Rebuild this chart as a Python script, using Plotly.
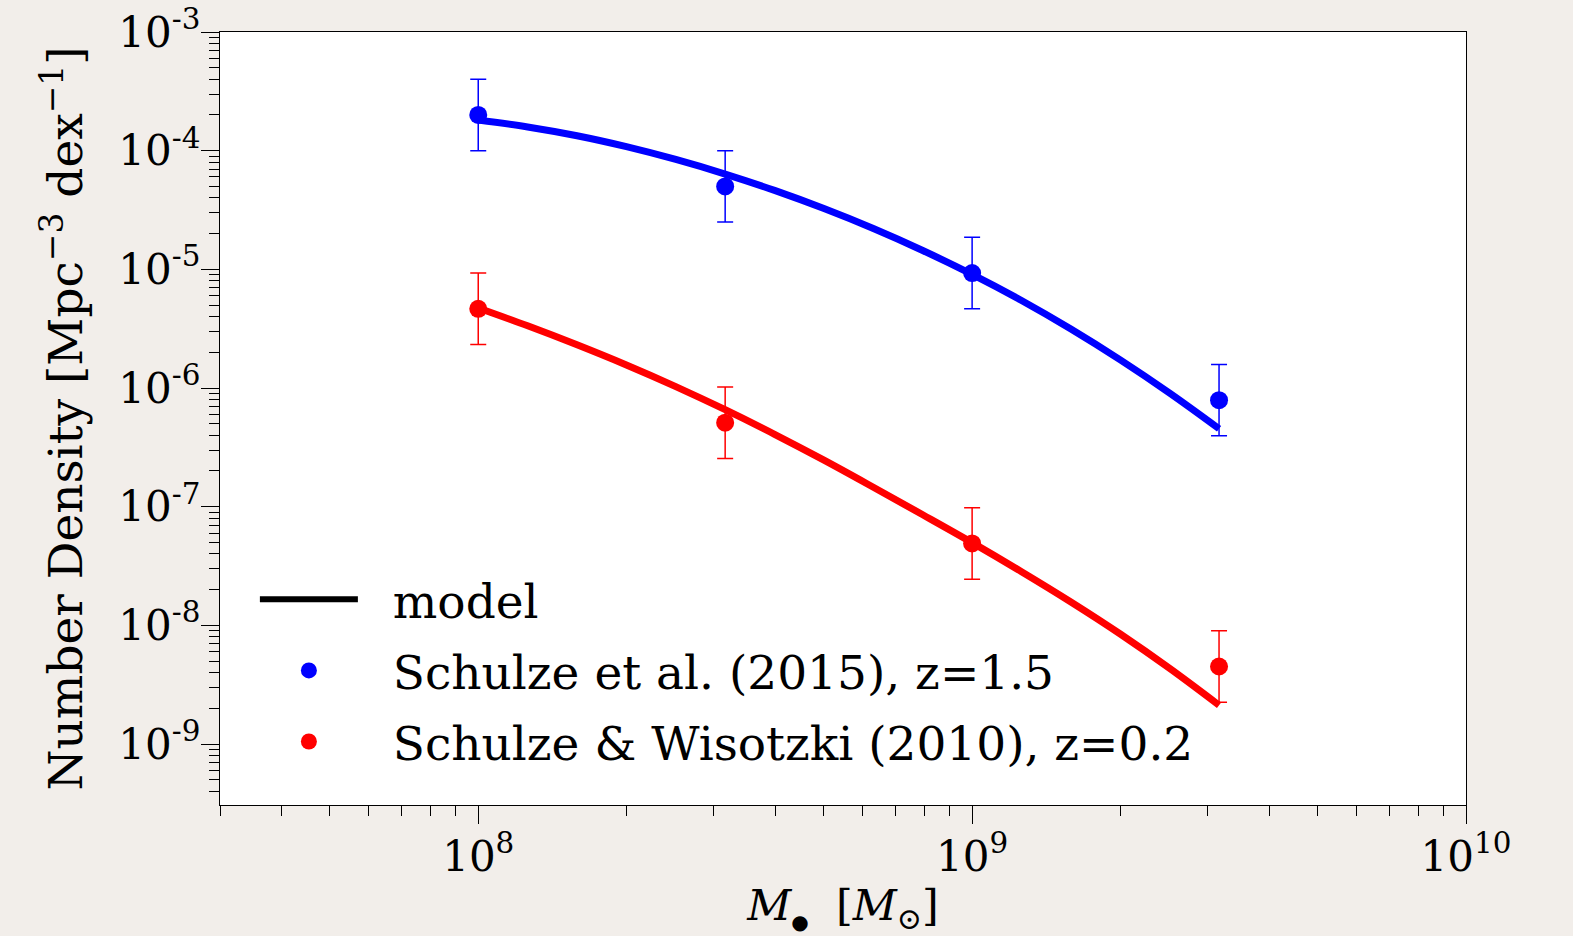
import numpy as np
import plotly.graph_objects as go

# ---- data ----
model_logm = [8.0, 8.1, 8.2, 8.3, 8.4, 8.5, 8.6, 8.7, 8.8, 8.9, 9.0, 9.1, 9.2, 9.3, 9.4, 9.5]
model_blue_logphi = [-3.742, -3.800, -3.874, -3.966, -4.074, -4.197, -4.335, -4.488, -4.656, -4.841,
                     -5.043, -5.263, -5.503, -5.763, -6.043, -6.343]
model_red_logphi = [-5.326, -5.476, -5.636, -5.806, -5.988, -6.183, -6.390, -6.608, -6.836, -7.068,
                    -7.303, -7.548, -7.803, -8.073, -8.363, -8.673]

obs_mass = [1e8, 3.162e8, 1e9, 3.162e9]
schulze15_phi = [2.0e-4, 5.0e-5, 9.3e-6, 7.9e-7]
schulze10_phi = [4.65e-6, 5.1e-7, 4.9e-8, 4.5e-9]

ytick_vals = [1e-9, 1e-8, 1e-7, 1e-6, 1e-5, 1e-4, 1e-3]
ytick_text = ["10<sup>-9</sup>", "10<sup>-8</sup>", "10<sup>-7</sup>", "10<sup>-6</sup>",
              "10<sup>-5</sup>", "10<sup>-4</sup>", "10<sup>-3</sup>"]
xtick_vals = [1e8, 1e9, 1e10]
xtick_text = ["10<sup>8</sup>", "10<sup>9</sup>", "10<sup>10</sup>"]

model_m = [10 ** v for v in model_logm]
model_blue = [10 ** v for v in model_blue_logphi]
model_red = [10 ** v for v in model_red_logphi]

def minor_vals(lo, hi):
    out = []
    for e in range(lo, hi):
        for d in range(2, 10):
            out.append(d * 10.0 ** e)
    return out

FONT = "DejaVu Serif"
BLUE = "#0000ff"
RED = "#ff0000"
SP = "&nbsp;&nbsp;"

fig = go.Figure()

# model curves
fig.add_trace(go.Scatter(x=model_m, y=model_blue, mode="lines",
                         line=dict(color=BLUE, width=7, shape="spline", smoothing=1.0),
                         showlegend=False))
fig.add_trace(go.Scatter(x=model_m, y=model_red, mode="lines",
                         line=dict(color=RED, width=7, shape="spline", smoothing=1.0),
                         showlegend=False))

# legend entry for model (black line)
fig.add_trace(go.Scatter(x=[None], y=[None], mode="lines", name=SP + "model",
                         line=dict(color="black", width=6), legendgroup="a"))

# observations
fig.add_trace(go.Scatter(
    x=obs_mass, y=schulze15_phi, mode="markers",
    name=SP + "Schulze et al. (2015), z=1.5", legendgroup="b",
    marker=dict(color=BLUE, size=18),
    error_y=dict(type="data", symmetric=False,
                 array=[v for v in schulze15_phi],
                 arrayminus=[v / 2 for v in schulze15_phi],
                 color=BLUE, thickness=1.5, width=8)))
fig.add_trace(go.Scatter(
    x=obs_mass, y=schulze10_phi, mode="markers",
    name=SP + "Schulze & Wisotzki (2010), z=0.2", legendgroup="c",
    marker=dict(color=RED, size=18),
    error_y=dict(type="data", symmetric=False,
                 array=[v for v in schulze10_phi],
                 arrayminus=[v / 2 for v in schulze10_phi],
                 color=RED, thickness=1.5, width=8)))

fig.update_layout(
    width=1573, height=936,
    paper_bgcolor="#f2eeea", plot_bgcolor="white",
    margin=dict(l=220, r=107, t=32, b=131, autoexpand=False),
    font=dict(family=FONT, color="black", size=42),
    showlegend=True,
    legend=dict(x=0.028, y=0.314, xanchor="left", yanchor="top",
                bgcolor="rgba(0,0,0,0)", font=dict(family=FONT, size=47),
                itemwidth=98, tracegroupgap=7, traceorder="grouped"),
)

fig.update_xaxes(
    type="log", range=[np.log10(3e7), 10], automargin=False,
    tickmode="array", tickvals=xtick_vals, ticktext=xtick_text,
    ticks="outside", ticklen=18, tickwidth=1.3, tickcolor="black",
    showline=True, linecolor="black", linewidth=1.3, mirror=True,
    showgrid=False, zeroline=False, ticklabelstandoff=-4,
    tickfont=dict(family=FONT, size=42),
    minor=dict(tickmode="array", tickvals=minor_vals(7, 10), ticks="outside",
               ticklen=10, tickwidth=1.0, tickcolor="black", showgrid=False),
    title=dict(text="<i>M</i><sub><span style='font-family:DejaVu Sans;font-size:20px'>●</span></sub>  [<i>M</i><sub>⊙</sub>]",
               font=dict(family=FONT, size=43), standoff=6),
)
fig.update_yaxes(
    type="log", range=[-9.514, -3], automargin=False,
    tickmode="array", tickvals=ytick_vals, ticktext=ytick_text,
    ticks="outside", ticklen=18, tickwidth=1.3, tickcolor="black",
    showline=True, linecolor="black", linewidth=1.3, mirror=True,
    showgrid=False, zeroline=False, ticklabelstandoff=-8,
    tickfont=dict(family=FONT, size=42),
    minor=dict(tickmode="array", tickvals=minor_vals(-10, -3), ticks="outside",
               ticklen=10, tickwidth=1.0, tickcolor="black", showgrid=False),
    title=dict(text="Number Density [Mpc<sup>−3</sup> dex<sup>−1</sup>]",
               font=dict(family=FONT, size=47), standoff=20),
)

fig.write_html("out.html", config={"displayModeBar": False},
               post_script="document.body.style.margin='0px';")
